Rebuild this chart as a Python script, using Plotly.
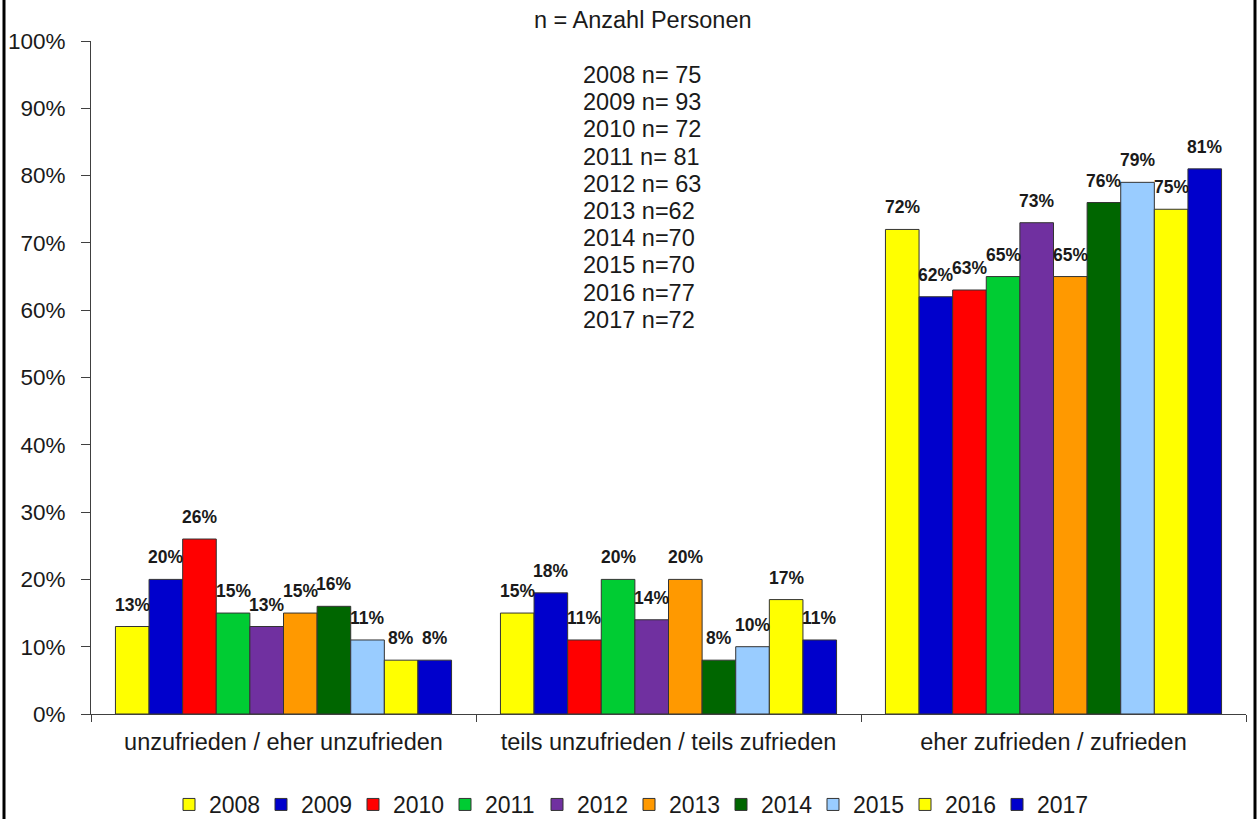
import plotly.graph_objects as go

categories = ["unzufrieden / eher unzufrieden", "teils unzufrieden / teils zufrieden", "eher zufrieden / zufrieden"]
years = ["2008", "2009", "2010", "2011", "2012", "2013", "2014", "2015", "2016", "2017"]
v2008 = [13, 15, 72]
v2009 = [20, 18, 62]
v2010 = [26, 11, 63]
v2011 = [15, 20, 65]
v2012 = [13, 14, 73]
v2013 = [15, 20, 65]
v2014 = [16, 8, 76]
v2015 = [11, 10, 79]
v2016 = [8, 17, 75]
v2017 = [8, 11, 81]
series = [v2008, v2009, v2010, v2011, v2012, v2013, v2014, v2015, v2016, v2017]
colors = ["#FFFF00", "#0000CC", "#FF0000", "#00CC33", "#7030A0", "#FF9900", "#006600", "#99CCFF", "#FFFF00", "#0000CC"]
n_counts = ["n= 75", "n= 93", "n= 72", "n= 81", "n= 63", "n=62", "n=70", "n=70", "n=77", "n=72"]
yticks = [0, 10, 20, 30, 40, 50, 60, 70, 80, 90, 100]

FONT = "Liberation Sans, Arial, sans-serif"
TXT = "#1a1a1a"
W, H = 1257, 819
ML, MR, MT, MB = 91, 11, 41, 105
BARGAP = 0.127
plot_w = W - ML - MR
plot_h = H - MT - MB


def px_x(x):
    return (x - ML) / plot_w


def px_y(y):
    return 1 - (y - MT) / plot_h


fig = go.Figure()
for yr, vals, col in zip(years, series, colors):
    fig.add_trace(go.Bar(
        x=categories, y=vals, name=yr,
        marker=dict(color=col, line=dict(color="#333333", width=1)),
    ))

annotations = []
nser = len(series)
w = (1 - BARGAP) / nser
for i, vals in enumerate(series):
    for g, v in enumerate(vals):
        annotations.append(dict(
            x=g + (i - (nser - 1) / 2) * w, y=v, xref="x", yref="y",
            text=f"<b>{v}%</b>", showarrow=False, yanchor="bottom", yshift=10,
            font=dict(family=FONT, size=17.5, color=TXT),
        ))

annotations.append(dict(
    x=px_x(643), y=px_y(20), xref="paper", yref="paper", yanchor="middle",
    text="n = Anzahl Personen", showarrow=False,
    font=dict(family=FONT, size=23.5, color=TXT),
))

for k, (yr, n) in enumerate(zip(years, n_counts)):
    annotations.append(dict(
        x=px_x(581), y=px_y(75 + 27.2 * k), xref="paper", yref="paper",
        xanchor="left", yanchor="middle",
        text=f"{yr} {n}", showarrow=False,
        font=dict(family=FONT, size=23.5, color=TXT),
    ))

shapes = [
    dict(type="line", xref="paper", yref="paper",
         x0=px_x(4), x1=px_x(4), y0=-2, y1=2,
         line=dict(color="black", width=3)),
    dict(type="line", xref="paper", yref="paper",
         x0=px_x(1255), x1=px_x(1255), y0=-2, y1=2,
         line=dict(color="black", width=3)),
]

fig.update_layout(
    width=W, height=H,
    margin=dict(l=ML, r=MR, t=MT, b=MB, autoexpand=False),
    paper_bgcolor="white", plot_bgcolor="white",
    barmode="group", bargap=BARGAP, bargroupgap=0,
    font=dict(family=FONT, size=22, color=TXT),
    showlegend=True,
    legend=dict(orientation="h", x=px_x(629), xanchor="center", y=px_y(783), yanchor="top",
                font=dict(family=FONT, size=23), itemwidth=30, tracegroupgap=0,
                entrywidth=47, entrywidthmode="pixels"),
    annotations=annotations,
    shapes=shapes,
    xaxis=dict(showline=True, linecolor="#404040", linewidth=1,
               ticks="outside", ticklen=7, tickcolor="#404040", tickson="boundaries",
               tickfont=dict(family=FONT, size=23.5, color=TXT), showgrid=False,
               ticklabelstandoff=7),
    yaxis=dict(range=[0, 100], tickvals=yticks, ticktext=[f"{t}%" for t in yticks],
               showline=True, linecolor="#404040", linewidth=1,
               ticks="outside", ticklen=9, tickcolor="#404040",
               tickfont=dict(family=FONT, size=22.5, color=TXT), showgrid=False, zeroline=False,
               ticklabelstandoff=11),
)

fig.write_html("out.html", config={"displayModeBar": False},
               post_script="document.body.style.margin='0px';document.body.style.overflow='hidden';")
